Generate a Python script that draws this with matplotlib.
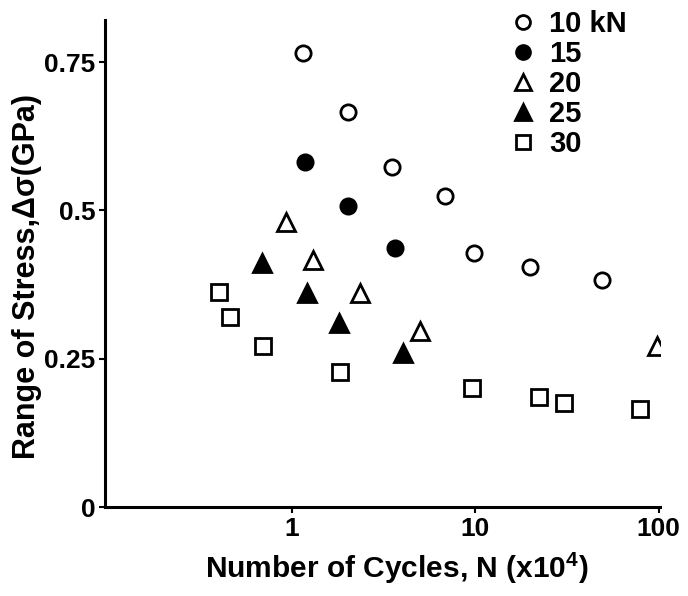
import matplotlib
matplotlib.use("Agg")
import matplotlib.pyplot as plt
from matplotlib.lines import Line2D

plt.rcParams['font.family'] = ['Liberation Sans', 'DejaVu Sans']
plt.rcParams['font.weight'] = 'bold'
plt.rcParams['mathtext.fontset'] = 'custom'
plt.rcParams['mathtext.rm'] = 'Liberation Sans'
plt.rcParams['mathtext.bf'] = 'Liberation Sans:bold'

# Data (N in x10^4 cycles, stress range in GPa)
n_10 = [1.15, 2.02, 3.51, 6.82, 9.8, 19.8, 49.0]
s_10 = [0.765, 0.666, 0.573, 0.524, 0.429, 0.405, 0.382]
n_15 = [1.18, 2.02, 3.64]
s_15 = [0.582, 0.507, 0.437]
n_20 = [0.93, 1.30, 2.35, 4.99, 97.5]
s_20 = [0.481, 0.416, 0.361, 0.296, 0.272]
n_25 = [0.687, 1.21, 1.80, 4.03]
s_25 = [0.412, 0.361, 0.311, 0.260]
n_30 = [0.40, 0.46, 0.695, 1.83, 9.57, 22.2, 30.4, 78.8]
s_30 = [0.363, 0.321, 0.272, 0.228, 0.201, 0.186, 0.176, 0.166]

labels = ["10 kN", "15", "20", "25", "30"]
xticks = [1, 10, 100]
xticklabels = ["1", "10", "100"]
yticks = [0, 0.25, 0.5, 0.75]
yticklabels = ["0", "0.25", "0.5", "0.75"]

fig = plt.figure(figsize=(6.88, 5.96), dpi=100)
ax = fig.add_axes([0.1526, 0.1493, 0.807, 0.8171])

mew = 2.0
ax.plot(n_10, s_10, 'o', ms=11, mfc='white', mec='black', mew=mew, ls='none')
ax.plot(n_15, s_15, 'o', ms=11, mfc='black', mec='black', mew=mew, ls='none')
ax.plot(n_20, s_20, '^', ms=12.5, mfc='white', mec='black', mew=mew, ls='none')
ax.plot(n_25, s_25, '^', ms=12.5, mfc='black', mec='black', mew=mew, ls='none')
ax.plot(n_30, s_30, 's', ms=11, mfc='white', mec='black', mew=mew, ls='none')

ax.set_xscale('log')
ax.set_xlim(0.096, 102)
ax.set_ylim(0, 0.821)
ax.set_xticks(xticks)
ax.set_xticklabels(xticklabels)
ax.minorticks_off()
ax.set_yticks(yticks)
ax.set_yticklabels(yticklabels)

for s in ['top', 'right']:
    ax.spines[s].set_visible(False)
for s in ['left', 'bottom']:
    ax.spines[s].set_linewidth(2.2)

ax.tick_params(axis='both', direction='out', length=4, width=1.5, labelsize=19, pad=3)
for lab in ax.get_xticklabels() + ax.get_yticklabels():
    lab.set_fontweight('bold')

ax.set_xlabel("Number of Cycles, N (x10$^{\\mathbf{4}}$)", fontsize=21.5, fontweight='bold')
ax.xaxis.set_label_coords(0.525, -0.088)
ax.set_ylabel("Range of Stress,Δσ(GPa)", fontsize=22, fontweight='bold')
ax.yaxis.set_label_coords(-0.1135, 0.474)

handles = [
    Line2D([], [], marker='o', ls='none', ms=10, mfc='white', mec='black', mew=mew),
    Line2D([], [], marker='o', ls='none', ms=10, mfc='black', mec='black', mew=mew),
    Line2D([], [], marker='^', ls='none', ms=11, mfc='white', mec='black', mew=mew),
    Line2D([], [], marker='^', ls='none', ms=11, mfc='black', mec='black', mew=mew),
    Line2D([], [], marker='s', ls='none', ms=10, mfc='white', mec='black', mew=mew),
]
leg = ax.legend(handles, labels, loc='upper left', bbox_to_anchor=(0.727, 1.027),
                frameon=False, fontsize=21, labelspacing=0.07, handlelength=0.8,
                handletextpad=0.5, borderpad=0.1, borderaxespad=0.0)
for t in leg.get_texts():
    t.set_fontweight('bold')

fig.savefig("out.png", dpi=100)
